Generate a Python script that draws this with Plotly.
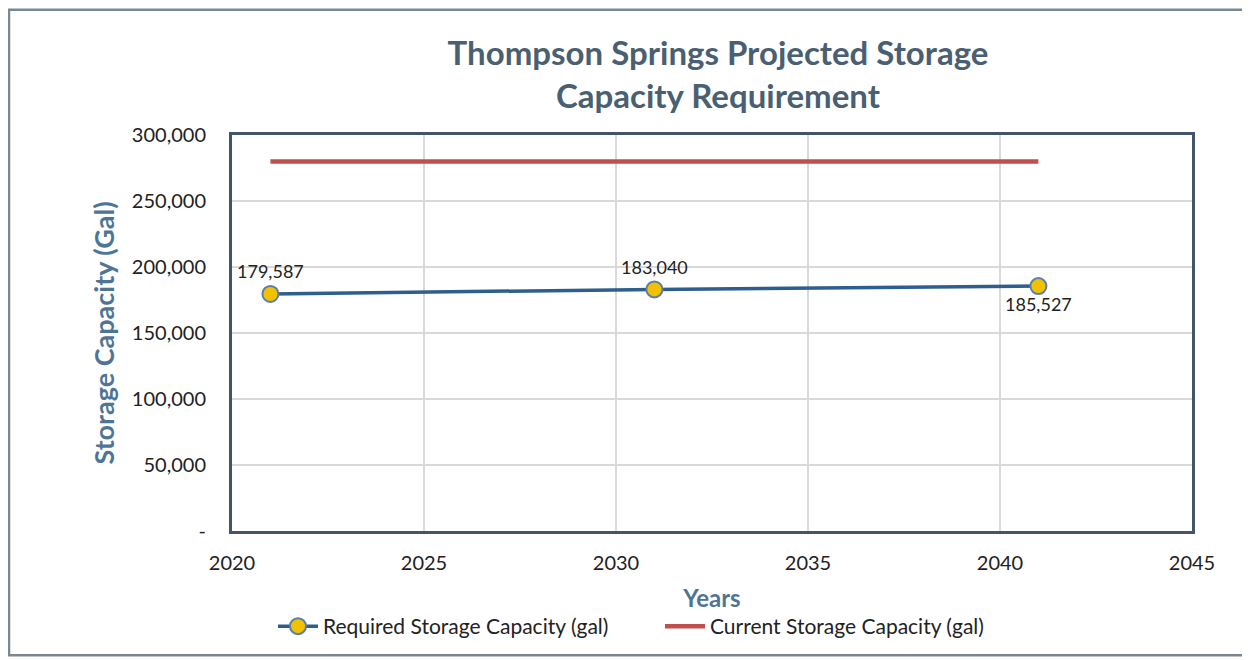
import plotly.graph_objects as go

years = [2021, 2031, 2041]
required = [179587, 183040, 185527]
current_years = [2021, 2041]
current = [280000, 280000]

x_ticks = [2020, 2025, 2030, 2035, 2040, 2045]
y_ticks = [0, 50000, 100000, 150000, 200000, 250000, 300000]
y_tick_text = ['-', '50,000', '100,000', '150,000', '200,000', '250,000', '300,000']

# page has an 8px body margin, so the figure sits at (8, 8)
W, H = 1238, 651
L, T = 224, 127
R, B = W - 1184, H - 525

fig = go.Figure()

# Required storage line with labelled markers
fig.add_trace(go.Scatter(
    x=years,
    y=required,
    mode='lines+markers+text',
    name='Required Storage Capacity (gal)',
    line=dict(color='#2E5E8E', width=3.5),
    marker=dict(size=16, color='#F2C200', line=dict(color='#5B7FA6', width=2)),
    text=[f'{v:,}' for v in required],
    textposition=['top center', 'top center', 'bottom center'],
    textfont=dict(size=18, color='#222222'),
))

# Current storage capacity
fig.add_trace(go.Scatter(
    x=current_years,
    y=current,
    mode='lines',
    name='Current Storage Capacity (gal)',
    line=dict(color='#C0504D', width=4.5),
))


def px(x):
    return (x - L) / (W - L - R)


def py(y):
    return (H - B - y) / (H - T - B)


# outer chart frame
fig.add_shape(type='rect', xref='paper', yref='paper',
              x0=px(1), x1=px(W - 1), y0=py(H - 1), y1=py(1),
              line=dict(color='#7A8894', width=2.5), layer='below')

fig.update_layout(
    width=W, height=H,
    margin=dict(l=L, r=R, t=T, b=B),
    paper_bgcolor='white',
    plot_bgcolor='white',
    font=dict(family='Lato, Open Sans, sans-serif', size=20, color='#222222'),
    title=dict(
        text='Thompson Springs Projected Storage<br>Capacity Requirement',
        xref='container', x=710 / W, xanchor='center',
        yref='container', y=1 - 57 / H, yanchor='middle',
        font=dict(size=33, color='#4A5F71', family='Lato, Open Sans, sans-serif', weight='bold'),
    ),
    xaxis=dict(
        range=[2020, 2045],
        tickvals=x_ticks,
        showgrid=True, gridcolor='#D9D9D9', gridwidth=1.5,
        showline=True, linecolor='#44546A', linewidth=3, mirror=True,
        ticks='outside', ticklen=12, tickcolor='rgba(0,0,0,0)',
        tickfont=dict(size=20, color='#222222'),
        title=dict(text='Years', standoff=18,
                   font=dict(size=24, color='#4F7596', weight='bold')),
        zeroline=False,
    ),
    yaxis=dict(
        range=[0, 300000],
        tickvals=y_ticks,
        ticktext=y_tick_text,
        showgrid=True, gridcolor='#D9D9D9', gridwidth=1.5,
        showline=True, linecolor='#44546A', linewidth=3, mirror=True,
        ticks='outside', ticklen=19, tickcolor='rgba(0,0,0,0)',
        tickfont=dict(size=20, color='#222222'),
        title=dict(text='Storage Capacity (Gal)', standoff=10,
                   font=dict(size=27, color='#4F7596', weight='bold')),
        zeroline=False,
    ),
    legend=dict(
        orientation='h',
        x=px(265), xanchor='left',
        y=py(621), yanchor='middle',
        font=dict(size=21, color='#222222'),
        itemwidth=40,
        entrywidth=332,
        tracegroupgap=0,
    ),
    showlegend=True,
)

fig.write_html('out.html')
